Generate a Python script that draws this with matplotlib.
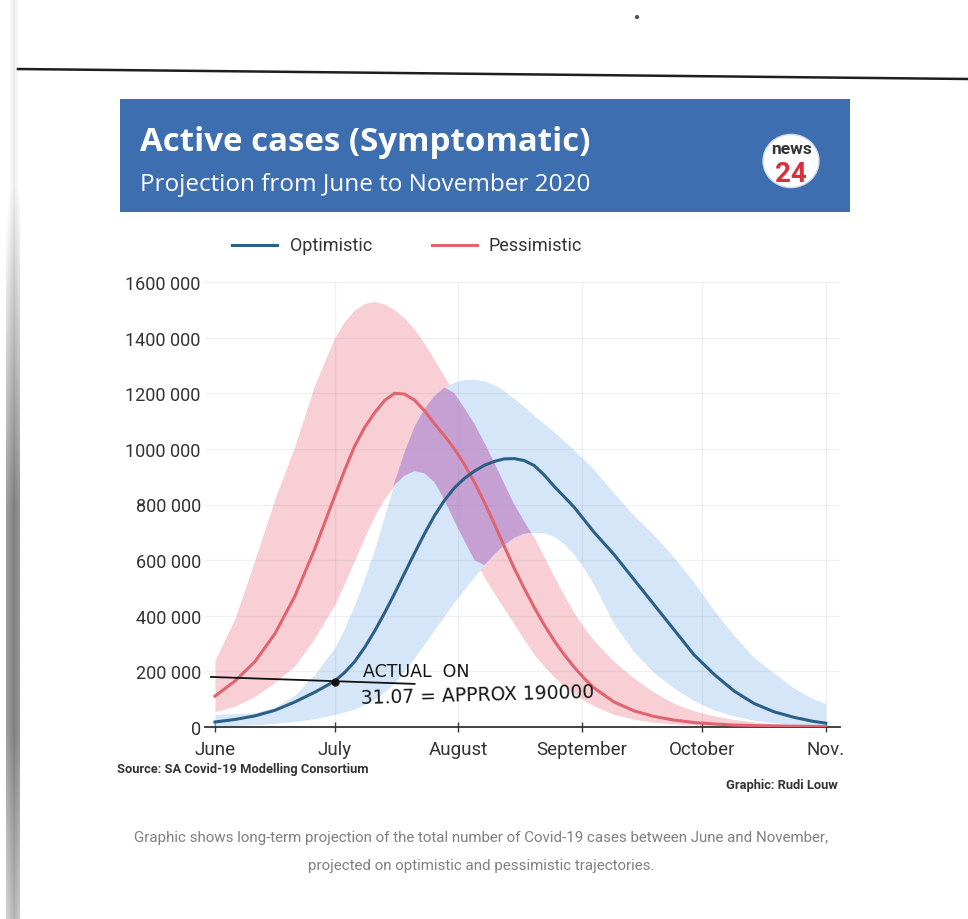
import numpy as np
import matplotlib
matplotlib.use('Agg')
import matplotlib.pyplot as plt
from matplotlib.patches import Rectangle, Circle
from matplotlib.lines import Line2D

# days since 1 June 2020 (denser around the peaks)
days = [0, 5, 10, 15, 20, 25, 30, 32.5, 35, 37.5, 40, 42.5, 45, 47.5, 50, 52.5, 55,
        57.5, 60, 62.5, 65, 67.5, 70, 72.5, 75, 77.5, 80, 82.5, 85, 87.5, 90, 92.5,
        95, 100, 105, 110, 115, 120, 125, 130, 135, 140, 145, 150, 153]

# active cases, thousands
opt_mid = [18, 27, 40, 60, 90, 125, 165, 196, 235, 286, 345, 410, 480, 553, 625, 695, 760,
           815, 860, 894, 920, 941, 955, 964, 965, 958, 940, 906, 865, 828, 790, 745,
           700, 620, 530, 440, 350, 260, 190, 130, 85, 55, 35, 20, 14]
opt_hi = [45, 48, 52, 70, 115, 190, 285, 356, 440, 535, 640, 760, 880, 988, 1080, 1144, 1190,
          1221, 1240, 1249, 1250, 1244, 1230, 1208, 1180, 1151, 1120, 1090, 1060, 1028, 995, 961,
          925, 840, 760, 690, 610, 520, 420, 330, 250, 195, 140, 100, 85]
opt_lo = [3, 5, 8, 13, 20, 30, 45, 54, 65, 80, 100, 127, 160, 203, 250, 299, 350,
          401, 450, 496, 540, 582, 620, 654, 680, 695, 700, 698, 685, 658, 620, 570,
          510, 370, 270, 195, 140, 95, 62, 40, 25, 15, 9, 5, 4]

pes_mid = [111, 165, 235, 335, 470, 640, 830, 924, 1010, 1077, 1130, 1174, 1200, 1197, 1175, 1137, 1090,
           1047, 1000, 944, 880, 808, 730, 649, 570, 498, 430, 367, 310, 260, 215, 175,
           140, 90, 58, 38, 25, 16, 11, 7, 5, 4, 3, 2, 2]
pes_hi = [240, 390, 600, 820, 1010, 1230, 1400, 1459, 1500, 1523, 1530, 1521, 1500, 1470, 1430, 1378, 1320,
          1260, 1200, 1146, 1090, 1022, 950, 874, 800, 739, 680, 611, 540, 473, 410, 357,
          310, 235, 175, 125, 85, 58, 40, 27, 18, 12, 8, 6, 5]
pes_lo = [55, 75, 110, 160, 220, 320, 440, 518, 600, 683, 760, 822, 870, 904, 920, 912, 880,
          816, 740, 669, 600, 538, 480, 424, 370, 313, 260, 217, 180, 148, 120, 96,
          75, 45, 28, 17, 11, 7, 5, 3, 2, 1, 1, 0, 0]

month_days = [0, 30, 61, 92, 122, 153]
month_labels = ['June', 'July', 'August', 'September', 'October', 'Nov.']
y_ticks = [0, 200000, 400000, 600000, 800000, 1000000, 1200000, 1400000, 1600000]

# hand-written note on the scan
note_x = [-1, 50]
note_y = [180000, 155000]
note_dot = (30, 162000)

W, H = 968, 920
def fx(px):
    return px / W
def fy(py):
    return 1 - py / H

c_opt = '#2c5f85'
c_pes = '#e0646f'
c_pink = '#f8cfd4'
c_blue = '#d4e6f7'
c_purple = '#c6a0d2'

x = np.array(days)
k = 1000
o_m, o_h, o_l = np.array(opt_mid) * k, np.array(opt_hi) * k, np.array(opt_lo) * k
p_m, p_h, p_l = np.array(pes_mid) * k, np.array(pes_hi) * k, np.array(pes_lo) * k

plt.rcParams['font.family'] = ['Roboto', 'DejaVu Sans']

fig = plt.figure(figsize=(W / 100, H / 100), dpi=100)
fig.patch.set_facecolor('white')

# scanned page bits: left shadow, ruled line, speck
grad = np.ones((200, 6))
yy = np.linspace(0, 1, 200)
shade = 0.92 - 0.42 * np.clip((yy - 0.2) / 0.35, 0, 1) + 0.2 * np.clip((yy - 0.8) / 0.2, 0, 1)
for i in range(6):
    grad[:, i] = shade + 0.04 * abs(i - 3)
bax = fig.add_axes([fx(6), 0, fx(14), 1])
bax.imshow(grad, cmap='gray', vmin=0, vmax=1, aspect='auto')
bax.axis('off')
fig.add_artist(Line2D([fx(18), fx(968)], [fy(70), fy(80)], color='#1e1e1e', lw=1.8))
fig.add_artist(Circle((fx(637), fy(18)), 0.0015, color='#555'))

# header
fig.add_artist(Rectangle((fx(120), fy(213)), fx(730), 113 / H, color='#3d6fb0', lw=0))
fig.text(fx(140), fy(151), 'Active cases (Symptomatic)', color='white', fontsize=23.8,
         fontweight='bold', family=['Open Sans', 'DejaVu Sans'])
fig.text(fx(140), fy(191), 'Projection from June to November 2020', color='white', fontsize=17.5,
         family=['Open Sans', 'DejaVu Sans'])
fig.add_artist(Circle((fx(791), fy(162)), 28 / W, color='white', ec='#cfd8e6', lw=1))
fig.text(fx(791), fy(150), 'news', color='#333333', fontsize=12.5, fontweight='bold',
         ha='center', va='center')
fig.text(fx(791), fy(175), '24', color='#d9323f', fontsize=20, fontweight='bold',
         ha='center', va='center')

# legend
fig.add_artist(Line2D([fx(232), fx(277)], [fy(246), fy(246)], color=c_opt, lw=2.2))
fig.text(fx(290), fy(246), 'Optimistic', color='#333', fontsize=13, va='center')
fig.add_artist(Line2D([fx(432), fx(477)], [fy(246), fy(246)], color=c_pes, lw=2.2))
fig.text(fx(488), fy(246), 'Pessimistic', color='#333', fontsize=13, va='center')

# chart
ax = fig.add_axes([fx(205), fy(728), fx(635), 445 / H])
ax.fill_between(x, p_l, p_h, color=c_pink, lw=0, zorder=1)
ax.fill_between(x, o_l, o_h, color=c_blue, lw=0, zorder=2)
both_lo = np.maximum(p_l, o_l)
both_hi = np.minimum(p_h, o_h)
ax.fill_between(x, both_lo, both_hi, where=both_hi > both_lo, interpolate=True,
                color=c_purple, lw=0, zorder=3)
for v in y_ticks[1:]:
    ax.axhline(v, color='#7a86a8', alpha=0.12, lw=0.9, zorder=4)
for d in month_days[1:]:
    ax.axvline(d, color='#7a86a8', alpha=0.12, lw=0.9, zorder=4)
ax.plot(x, p_m, color=c_pes, lw=2.2, zorder=5)
ax.plot(x, o_m, color=c_opt, lw=2.2, zorder=6)

ax.plot(note_x, note_y, color='#111', lw=1.3, zorder=7, clip_on=False)
ax.plot(*note_dot, 'o', color='#111', ms=5, zorder=8)
ax.text(37, 182000, 'ACTUAL  ON', fontsize=12.5, color='#151515', family='DejaVu Sans',
        zorder=8, va='baseline')
ax.text(36.5, 88000, '31.07 = APPROX 190000', fontsize=13.5, color='#151515',
        family='DejaVu Sans', zorder=8, rotation=1.5, va='baseline')

ax.set_xlim(-2.5, 156.6)
ax.set_ylim(0, 1600000)
ax.set_xticks(month_days)
ax.set_xticklabels(month_labels, fontsize=13.5, color='#333')
ax.set_yticks(y_ticks)
ax.set_yticklabels(['0' if v == 0 else f'{v // 1000} 000' for v in y_ticks],
                   fontsize=13, color='#333')
ax.tick_params(axis='x', direction='inout', length=7, width=1, color='#333', pad=6)
ax.tick_params(axis='y', length=0, pad=3)
for s in ['top', 'right', 'left']:
    ax.spines[s].set_visible(False)
ax.spines['bottom'].set_color('#333')
ax.spines['bottom'].set_linewidth(1.3)
ax.set_facecolor('none')

# footer
fig.text(fx(117), fy(770), 'Source: SA Covid-19 Modelling Consortium', fontsize=9.3,
         fontweight='bold', color='#333', va='center')
fig.text(fx(838), fy(786), 'Graphic: Rudi Louw', fontsize=9.3, fontweight='bold',
         color='#333', va='center', ha='right')
fig.text(fx(481), fy(838), 'Graphic shows long-term projection of the total number of Covid-19 '
         'cases between June and November,', fontsize=10.9, color='#808080', ha='center', va='center')
fig.text(fx(481), fy(866), 'projected on optimistic and pessimistic trajectories.', fontsize=10.9,
         color='#808080', ha='center', va='center')

plt.savefig('out.png', dpi=100)
